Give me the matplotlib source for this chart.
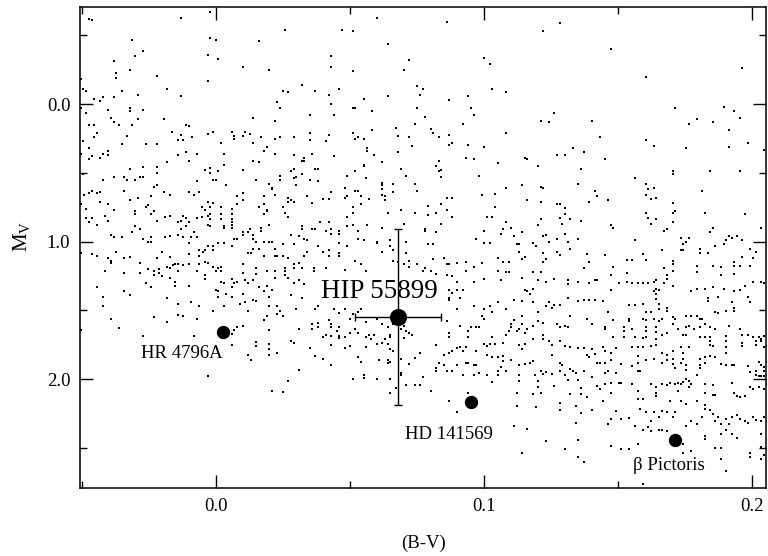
import numpy as np
import matplotlib.pyplot as plt
from matplotlib.ticker import MultipleLocator, FormatStrFormatter

plt.rcParams['font.family'] = ['Liberation Serif', 'DejaVu Serif']
plt.rcParams['mathtext.fontset'] = 'custom'
plt.rcParams['mathtext.rm'] = 'Liberation Serif'

# field stars, (B-V, M_V)
field_upper_left = [
    (-0.0473, -0.618), (-0.0463, -0.609), (-0.0132, -0.628), (-0.0022, -0.669), (-0.0312, -0.468),
    (-0.0022, -0.48), (-0.0001, -0.468), (-0.0272, -0.383), (-0.0302, -0.349), (-0.0031, -0.359),
    (0.0009, -0.327), (-0.0382, -0.31), (0.010, -0.27), (-0.0322, -0.25), (-0.0373, -0.228),
    (-0.0373, -0.192), (-0.0221, -0.206), (-0.0503, -0.18), (-0.0031, -0.17), (-0.0494, -0.109),
    (-0.0483, -0.097), (-0.0352, -0.097), (-0.0182, -0.109), (-0.0291, -0.068), (-0.0132, -0.058),
    (-0.0453, -0.039), (-0.0423, -0.051), (-0.0382, -0.049), (-0.0433, -0.02),
    (-0.0503, 0.031), (-0.0483, 0.063), (-0.0403, 0.041), (-0.0322, 0.031), (-0.0322, 0.053),
    (-0.0272, 0.041), (-0.0393, 0.102), (-0.0291, 0.111), (-0.0193, 0.111), (-0.0382, 0.133),
    (-0.0473, 0.15), (-0.0453, 0.15), (-0.0362, 0.15), (-0.0312, 0.15), (-0.0113, 0.15),
    (-0.0102, 0.162), (-0.0162, 0.204), (-0.0443, 0.211), (-0.0453, 0.24), (-0.0332, 0.23),
    (-0.0132, 0.223), (-0.0091, 0.24), (-0.0031, 0.22), (-0.0011, 0.204), (0.0059, 0.204),
    (0.0067, 0.23), (0.0067, 0.252), (0.010, 0.23), (0.0109, 0.204), (0.0129, 0.22),
    (-0.0494, 0.271), (-0.0352, 0.291), (-0.0262, 0.291), (-0.0221, 0.291), (-0.0142, 0.262),
    (-0.0121, 0.262), (0.0019, 0.281), (-0.0473, 0.32), (-0.0503, 0.361), (-0.0423, 0.361),
    (-0.0403, 0.342), (-0.0403, 0.371), (-0.0463, 0.38), (-0.0473, 0.40), (-0.0433, 0.39),
    (-0.0142, 0.371), (-0.0113, 0.351), (-0.0072, 0.361), (0.0029, 0.361), (-0.0102, 0.412),
    (-0.0182, 0.422), (0.0029, 0.441), (-0.0322, 0.473), (-0.0272, 0.46), (-0.0221, 0.46),
    (-0.0221, 0.499), (-0.0041, 0.48), (-0.0021, 0.468), (-0.0021, 0.499), (0.0009, 0.489),
    (0.010, 0.48), (-0.0494, 0.509), (-0.0423, 0.55), (-0.0382, 0.531), (-0.0342, 0.531),
    (-0.0332, 0.55), (-0.0302, 0.55), (-0.0282, 0.531), (-0.0272, 0.531), (-0.0072, 0.56),
    (-0.0011, 0.55), (-0.0001, 0.55), (-0.0221, 0.591), (0.0039, 0.591), (-0.0463, 0.63),
    (-0.0473, 0.65), (-0.0443, 0.65), (-0.0433, 0.64), (-0.0493, 0.66), (-0.0342, 0.63),
    (-0.0243, 0.671), (-0.0291, 0.681), (-0.0193, 0.64), (-0.0172, 0.66), (-0.0102, 0.64),
    (-0.0082, 0.66), (-0.0062, 0.64), (-0.0232, 0.606), (0.010, 0.65), (0.0078, 0.671),
    (0.010, 0.70), (-0.0433, 0.71), (-0.0503, 0.73), (-0.0322, 0.70), (-0.0403, 0.73),
    (-0.0262, 0.749), (-0.0253, 0.734), (-0.0031, 0.71), (-0.0011, 0.722), (0.0078, 0.73),
    (-0.0483, 0.76), (-0.0382, 0.77), (-0.0302, 0.778), (-0.0302, 0.80), (-0.0232, 0.778),
    (-0.0243, 0.80), (-0.0051, 0.749), (-0.0041, 0.77), (-0.0021, 0.749), (0.0019, 0.749),
    (0.0059, 0.76), (0.0059, 0.80), (-0.0413, 0.81), (-0.0172, 0.81), (-0.0191, 0.82),
    (-0.0121, 0.81), (-0.0112, 0.829), (-0.0072, 0.829), (-0.0051, 0.82), (-0.0031, 0.81),
    (-0.0021, 0.80), (-0.0021, 0.838), (0.0019, 0.80), (0.0019, 0.838), (-0.0483, 0.829),
    (-0.0463, 0.829), (-0.0473, 0.86), (-0.0403, 0.848), (-0.0221, 0.848), (-0.0142, 0.86),
    (-0.0132, 0.848), (-0.0102, 0.86), (0.0059, 0.838), (0.0059, 0.86), (-0.0443, 0.88),
    (-0.0302, 0.889), (-0.0132, 0.909), (-0.0112, 0.889), (-0.0031, 0.88), (-0.0021, 0.889),
    (0.0029, 0.889), (0.0029, 0.90), (0.0059, 0.88), (0.0059, 0.90), (0.0129, 0.909),
    (-0.0282, 0.909), (-0.0393, 0.953), (-0.0382, 0.965), (-0.0352, 0.969), (-0.0312, 0.931),
    (-0.0272, 0.982), (-0.0243, 0.969), (-0.0253, 1.0), (-0.0243, 1.0), (-0.0191, 0.969),
    (-0.0172, 0.96), (-0.0142, 0.953), (-0.0121, 0.969), (-0.0092, 0.969), (-0.0072, 0.969),
    (-0.0082, 0.931), (-0.0102, 1.011), (-0.0031, 1.03), (-0.0011, 1.03), (0.0009, 1.011),
    (0.0029, 1.011), (0.0059, 1.03), (0.0068, 0.982), (0.0078, 0.982), (0.010, 0.931),
    (0.010, 0.953), (0.0119, 0.931),
]

field_upper_mid = [
    (0.0600, -0.628), (0.0259, -0.536), (0.0470, -0.538), (0.0510, -0.529), (0.0159, -0.458),
    (0.0641, -0.439), (0.0430, -0.349), (0.0430, -0.267), (0.0719, -0.318), (0.0700, -0.250),
    (0.0199, -0.250), (0.0510, -0.238), (0.0320, -0.138), (0.0249, -0.097), (0.0269, -0.087),
    (0.0370, -0.097), (0.0460, -0.109), (0.0420, -0.068), (0.0751, -0.129), (0.0771, -0.109),
    (0.0761, -0.068), (0.0641, -0.058), (0.0551, -0.039), (0.0229, -0.017), (0.0239, 0.031),
    (0.0430, 0.002), (0.0510, 0.031), (0.0520, 0.031), (0.0581, 0.051), (0.0751, 0.031),
    (0.0139, 0.099), (0.0219, 0.121), (0.0351, 0.080), (0.0440, 0.080), (0.0741, 0.143),
    (0.0671, 0.172), (0.0581, 0.191), (0.0168, 0.240), (0.0239, 0.240), (0.0219, 0.252),
    (0.0290, 0.240), (0.0351, 0.211), (0.0351, 0.262), (0.0420, 0.223), (0.0409, 0.271),
    (0.0510, 0.211), (0.0520, 0.252), (0.0530, 0.240), (0.0551, 0.252), (0.0681, 0.230),
    (0.0720, 0.240), (0.0731, 0.303), (0.0139, 0.281), (0.0189, 0.310), (0.0179, 0.342),
    (0.0219, 0.361), (0.0290, 0.371), (0.0360, 0.361), (0.0330, 0.39), (0.0320, 0.412),
    (0.0330, 0.412), (0.0440, 0.380), (0.0564, 0.322), (0.0564, 0.342), (0.0591, 0.371),
    (0.0681, 0.351), (0.0139, 0.412), (0.0159, 0.422), (0.0551, 0.441), (0.0551, 0.451),
    (0.0621, 0.422), (0.0290, 0.473), (0.0280, 0.489), (0.0370, 0.473), (0.0380, 0.473),
    (0.0320, 0.509), (0.0239, 0.521), (0.0239, 0.550), (0.0290, 0.54), (0.0300, 0.531),
    (0.0351, 0.550), (0.0380, 0.560), (0.0148, 0.550), (0.0520, 0.489), (0.0490, 0.521),
    (0.0560, 0.54), (0.0691, 0.473), (0.0710, 0.521), (0.0199, 0.582), (0.0209, 0.611),
    (0.0209, 0.620), (0.0300, 0.591), (0.0620, 0.572), (0.0620, 0.591), (0.0620, 0.620),
    (0.0661, 0.582), (0.0661, 0.640), (0.0741, 0.582), (0.0751, 0.630), (0.0480, 0.611),
    (0.0430, 0.640), (0.0520, 0.630), (0.0530, 0.630), (0.0179, 0.671), (0.0219, 0.659),
    (0.0269, 0.681), (0.0269, 0.710), (0.0280, 0.70), (0.0290, 0.710), (0.0340, 0.671),
    (0.0399, 0.691), (0.0420, 0.691), (0.0480, 0.681), (0.0490, 0.671), (0.0540, 0.671),
    (0.0570, 0.691), (0.0620, 0.659), (0.0631, 0.671), (0.0631, 0.70), (0.0360, 0.720),
    (0.0540, 0.73), (0.0179, 0.73), (0.0159, 0.749), (0.0189, 0.769), (0.0189, 0.778),
    (0.0179, 0.80), (0.0249, 0.749), (0.0259, 0.79), (0.0269, 0.82), (0.0510, 0.749),
    (0.0510, 0.79), (0.0490, 0.82), (0.0691, 0.769), (0.0641, 0.79), (0.0741, 0.79),
    (0.0199, 0.88), (0.0168, 0.899), (0.0168, 0.923), (0.0320, 0.889), (0.0320, 0.909),
    (0.0360, 0.909), (0.0370, 0.909), (0.0389, 0.860), (0.0420, 0.860), (0.0409, 0.923),
    (0.0430, 0.909), (0.0430, 0.943), (0.0460, 0.923), (0.0460, 0.943), (0.0490, 0.889),
    (0.0510, 0.880), (0.0530, 0.923), (0.0564, 0.880), (0.0621, 0.899), (0.0700, 0.870),
    (0.0139, 0.953), (0.0139, 0.982), (0.0148, 1.001), (0.0179, 1.001), (0.0199, 1.001),
    (0.0209, 1.001), (0.0249, 1.020), (0.0280, 0.953), (0.0290, 1.020), (0.0310, 0.962),
    (0.0330, 0.982), (0.0340, 0.991), (0.0380, 1.030), (0.0460, 1.011), (0.0490, 1.030),
    (0.0530, 0.982), (0.0551, 0.991), (0.0601, 1.001), (0.0601, 1.011), (0.0651, 0.991),
    (0.0651, 1.030), (0.0710, 1.001),
]

field_upper_right = [
    (0.0861, -0.599), (0.1282, -0.592), (0.1221, -0.529), (0.1001, -0.337), (0.1021, -0.289),
    (0.1031, -0.109), (0.1082, -0.087), (0.0942, -0.058), (0.0871, -0.029), (0.0952, 0.031),
    (0.0961, 0.080), (0.0781, 0.092), (0.1263, 0.063), (0.1212, 0.121), (0.1243, 0.133),
    (0.1403, 0.121), (0.0922, 0.143), (0.0801, 0.182), (0.0811, 0.211), (0.0831, 0.240),
    (0.0871, 0.223), (0.1082, 0.211), (0.0881, 0.281), (0.0871, 0.30), (0.0942, 0.30),
    (0.1001, 0.310), (0.0932, 0.390), (0.0961, 0.402), (0.0831, 0.412), (0.0821, 0.451),
    (0.0831, 0.489), (0.0841, 0.48), (0.0841, 0.531), (0.1051, 0.431), (0.1152, 0.390),
    (0.1162, 0.402), (0.1202, 0.451), (0.1272, 0.371), (0.1302, 0.371), (0.1332, 0.320),
    (0.1373, 0.351), (0.1362, 0.473), (0.0981, 0.521), (0.1142, 0.591), (0.1082, 0.611),
    (0.1212, 0.601), (0.1221, 0.611), (0.1352, 0.582), (0.1413, 0.630), (0.0993, 0.659),
    (0.1041, 0.652), (0.0861, 0.681), (0.0881, 0.681), (0.0790, 0.739), (0.0841, 0.729),
    (0.0821, 0.79), (0.0861, 0.769), (0.0881, 0.82), (0.0790, 0.809), (0.1041, 0.749),
    (0.1011, 0.82), (0.1031, 0.82), (0.1162, 0.70), (0.1212, 0.710), (0.1272, 0.729),
    (0.1282, 0.729), (0.1302, 0.758), (0.1302, 0.80), (0.1393, 0.710), (0.1212, 0.838),
    (0.1282, 0.829), (0.1322, 0.838), (0.1362, 0.848), (0.1292, 0.870), (0.1202, 0.880),
    (0.0781, 0.909), (0.0781, 0.923), (0.0821, 0.931), (0.0841, 0.870), (0.1001, 0.921),
    (0.1082, 0.860), (0.1072, 0.909), (0.1062, 0.943), (0.1102, 0.899), (0.1112, 0.960),
    (0.1142, 0.931), (0.1221, 0.960), (0.1233, 0.953), (0.1302, 0.943), (0.0971, 0.982),
    (0.1001, 1.011), (0.1021, 1.011), (0.0790, 1.020), (0.0811, 1.020), (0.1122, 1.020),
    (0.1132, 1.020), (0.1182, 1.011), (0.1193, 1.030), (0.1243, 1.001), (0.1272, 0.982),
    (0.1312, 1.001), (0.1352, 0.982),
    (0.1473, -0.398), (0.1964, -0.259), (0.1603, -0.199), (0.1714, 0.031), (0.1894, 0.022),
    (0.1934, 0.051), (0.1954, 0.102), (0.1794, 0.111), (0.1764, 0.143), (0.1853, 0.133),
    (0.1914, 0.191), (0.1432, 0.240), (0.1603, 0.262), (0.1634, 0.303), (0.1754, 0.320),
    (0.1914, 0.313), (0.1984, 0.281), (0.2045, 0.332), (0.1453, 0.402), (0.1704, 0.489),
    (0.1704, 0.511), (0.1843, 0.489), (0.1954, 0.489), (0.1563, 0.54), (0.1603, 0.582),
    (0.1613, 0.620), (0.1634, 0.611), (0.1603, 0.661), (0.1623, 0.691), (0.1643, 0.681),
    (0.1423, 0.671), (0.1463, 0.70), (0.1813, 0.630), (0.1704, 0.720), (0.1603, 0.79),
    (0.1613, 0.829), (0.1643, 0.838), (0.1623, 0.870), (0.1704, 0.79), (0.1714, 0.78),
    (0.1823, 0.79), (0.1974, 0.80), (0.1704, 0.860), (0.1473, 0.880), (0.1483, 0.899),
    (0.1673, 0.921), (0.1683, 0.909), (0.1853, 0.899), (0.1843, 0.931), (0.2035, 0.899),
    (0.1563, 0.991), (0.1734, 0.972), (0.1764, 0.972), (0.1754, 1.001), (0.1744, 1.020),
    (0.1863, 1.030), (0.1894, 1.020), (0.1904, 0.991), (0.1914, 0.962), (0.1924, 0.972),
    (0.1944, 0.962), (0.1964, 0.991),
]

field_lower_left = [
    (-0.0502, 1.081), (-0.0462, 1.088), (-0.0442, 1.101), (-0.0402, 1.120), (-0.0393, 1.137),
    (-0.0393, 1.154), (-0.0373, 1.072), (-0.0342, 1.120), (-0.0322, 1.113), (-0.0282, 1.154),
    (-0.0221, 1.120), (-0.0201, 1.072), (-0.0171, 1.113), (-0.0101, 1.088), (-0.0062, 1.059),
    (-0.0062, 1.101), (-0.0050, 1.072), (-0.0040, 1.059), (-0.0011, 1.059), (-0.0412, 1.215),
    (-0.0342, 1.229), (-0.0282, 1.229), (-0.0252, 1.202), (-0.0232, 1.215), (-0.0232, 1.244),
    (-0.0211, 1.202), (-0.0211, 1.229), (-0.0201, 1.253), (-0.0181, 1.185), (-0.0171, 1.190),
    (-0.0161, 1.173), (-0.0151, 1.161), (-0.0141, 1.161), (-0.0141, 1.215), (-0.0171, 1.263),
    (-0.0121, 1.173), (-0.0101, 1.161), (-0.0062, 1.161), (-0.0040, 1.147), (-0.0031, 1.154),
    (-0.0072, 1.215), (-0.0040, 1.244), (-0.0040, 1.273), (-0.0011, 1.185), (0.0000, 1.215),
    (0.0009, 1.195), (0.0019, 1.185), (0.0019, 1.215), (0.0100, 1.161), (0.0100, 1.229),
    (0.0120, 1.081), (0.0130, 1.081), (-0.0262, 1.302), (-0.0242, 1.331), (-0.0151, 1.292),
    (-0.0151, 1.321), (-0.0101, 1.321), (0.0019, 1.292), (0.0029, 1.302), (0.0059, 1.273),
    (0.0069, 1.302), (0.0079, 1.292), (0.0110, 1.282), (0.0120, 1.302), (-0.0442, 1.331),
    (-0.0342, 1.360), (-0.0322, 1.391), (-0.0422, 1.401), (-0.0422, 1.471), (-0.0181, 1.411),
    (0.0000, 1.350), (0.0009, 1.360), (0.0009, 1.401), (0.0039, 1.382), (0.0059, 1.331),
    (0.0059, 1.401), (0.0100, 1.382), (0.0110, 1.440), (0.0090, 1.452), (-0.0141, 1.452),
    (-0.0092, 1.440), (-0.0062, 1.471), (0.0029, 1.471), (-0.0011, 1.501), (0.0120, 1.501),
    (-0.0393, 1.559), (-0.0363, 1.629), (-0.0232, 1.551), (-0.0181, 1.583), (-0.0141, 1.534),
    (-0.0121, 1.542), (-0.0072, 1.559), (-0.0502, 1.639), (-0.0272, 1.682), (-0.0082, 1.682),
    (0.0059, 1.668), (0.0069, 1.639), (0.0079, 1.622), (0.0100, 1.614), (0.0059, 1.753),
    (0.0120, 1.823), (0.0130, 1.859), (-0.0031, 1.978),
]

field_lower_mid = [
    (0.0139, 1.050), (0.0159, 1.050), (0.0179, 1.101), (0.0219, 1.050), (0.0219, 1.101),
    (0.0229, 1.101), (0.0249, 1.101), (0.0269, 1.120), (0.0330, 1.101), (0.0340, 1.072),
    (0.0399, 1.072), (0.0420, 1.059), (0.0420, 1.101), (0.0460, 1.081), (0.0460, 1.101),
    (0.0290, 1.161), (0.0310, 1.154), (0.0320, 1.195), (0.0290, 1.195), (0.0259, 1.190),
    (0.0259, 1.215), (0.0259, 1.244), (0.0269, 1.263), (0.0189, 1.215), (0.0219, 1.215),
    (0.0219, 1.263), (0.0148, 1.190), (0.0148, 1.234), (0.0139, 1.282), (0.0159, 1.331),
    (0.0179, 1.360), (0.0189, 1.321), (0.0209, 1.350), (0.0199, 1.401), (0.0290, 1.302),
    (0.0310, 1.282), (0.0330, 1.311), (0.0320, 1.411), (0.0366, 1.195), (0.0366, 1.215),
    (0.0409, 1.190), (0.0480, 1.205), (0.0520, 1.137), (0.0540, 1.161), (0.0560, 1.215),
    (0.0621, 1.072), (0.0661, 1.059), (0.0661, 1.137), (0.0681, 1.147), (0.0700, 1.161),
    (0.0710, 1.081), (0.0719, 1.137), (0.0719, 1.185), (0.0751, 1.161), (0.0771, 1.215),
    (0.0139, 1.421), (0.0148, 1.428), (0.0199, 1.471), (0.0229, 1.471), (0.0239, 1.501),
    (0.0249, 1.540), (0.0229, 1.525), (0.0189, 1.542), (0.0179, 1.568), (0.0199, 1.641),
    (0.0300, 1.491), (0.0280, 1.391), (0.0370, 1.491), (0.0380, 1.471), (0.0440, 1.491),
    (0.0460, 1.520), (0.0480, 1.491), (0.0500, 1.559), (0.0510, 1.525), (0.0420, 1.568),
    (0.0430, 1.598), (0.0430, 1.622), (0.0460, 1.622), (0.0450, 1.646), (0.0460, 1.685),
    (0.0460, 1.699), (0.0360, 1.598), (0.0360, 1.632), (0.0380, 1.590), (0.0380, 1.622),
    (0.0399, 1.694), (0.0409, 1.675), (0.0430, 1.682), (0.0480, 1.694), (0.0500, 1.661),
    (0.0520, 1.632), (0.0530, 1.661), (0.0310, 1.632), (0.0540, 1.491), (0.0530, 1.510),
    (0.0560, 1.585), (0.0601, 1.559), (0.0621, 1.598), (0.0641, 1.622), (0.0661, 1.598),
    (0.0560, 1.694), (0.0570, 1.675), (0.0580, 1.704), (0.0591, 1.675), (0.0631, 1.704),
    (0.0651, 1.694), (0.0651, 1.675), (0.0691, 1.632), (0.0700, 1.610), (0.0710, 1.646),
    (0.0720, 1.661), (0.0731, 1.675), (0.0700, 1.699), (0.0148, 1.728), (0.0148, 1.757),
    (0.0199, 1.743), (0.0199, 1.782), (0.0199, 1.823), (0.0229, 1.811), (0.0280, 1.724),
    (0.0290, 1.733), (0.0351, 1.770), (0.0370, 1.828), (0.0399, 1.852), (0.0430, 1.898),
    (0.0430, 1.753), (0.0480, 1.772), (0.0500, 1.757), (0.0560, 1.762), (0.0601, 1.743),
    (0.0621, 1.733), (0.0641, 1.743), (0.0651, 1.782), (0.0661, 1.791), (0.0530, 1.840),
    (0.0540, 1.871), (0.0610, 1.862), (0.0641, 1.862), (0.0641, 1.881), (0.0651, 1.871),
    (0.0691, 1.852), (0.0720, 1.891), (0.0741, 1.842), (0.0691, 1.951), (0.0691, 1.968),
    (0.0310, 1.932), (0.0269, 2.012), (0.0209, 2.082), (0.0249, 2.092), (0.0510, 2.000),
    (0.0551, 1.968), (0.0551, 1.990), (0.0601, 2.000), (0.0651, 2.000), (0.0710, 2.039),
    (0.0741, 2.039), (0.0761, 2.039), (0.0771, 1.985), (0.0651, 2.102), (0.0671, 2.063),
    (0.0761, 1.808),
]

field_lower_right = [
    (0.0811, 1.127), (0.0851, 1.118), (0.0861, 1.166), (0.0871, 1.166), (0.0781, 1.195),
    (0.0801, 1.215), (0.0932, 1.147), (0.0961, 1.185), (0.0993, 1.156), (0.1052, 1.118),
    (0.1072, 1.147), (0.1092, 1.147), (0.1132, 1.072), (0.1142, 1.127), (0.1152, 1.108),
    (0.1221, 1.081), (0.1221, 1.147), (0.1233, 1.127), (0.1272, 1.072), (0.1282, 1.098),
    (0.1322, 1.050), (0.1383, 1.088), (0.1393, 1.147), (0.1373, 1.195), (0.0861, 1.244),
    (0.0881, 1.253), (0.0901, 1.292), (0.0932, 1.215), (0.0961, 1.292), (0.1001, 1.273),
    (0.1051, 1.215), (0.1062, 1.282), (0.1082, 1.224), (0.1092, 1.224), (0.1142, 1.263),
    (0.1182, 1.224), (0.1202, 1.282), (0.1212, 1.224), (0.1233, 1.292), (0.1263, 1.273),
    (0.1312, 1.282), (0.1312, 1.311), (0.1352, 1.292), (0.1393, 1.302), (0.1413, 1.282),
    (0.0871, 1.350), (0.0871, 1.411), (0.0871, 1.421), (0.0881, 1.370), (0.0901, 1.350),
    (0.0911, 1.411), (0.0922, 1.350), (0.0901, 1.491), (0.0961, 1.471), (0.1001, 1.491),
    (0.1021, 1.471), (0.1031, 1.510), (0.1051, 1.442), (0.1082, 1.491), (0.1112, 1.421),
    (0.1142, 1.433), (0.1152, 1.350), (0.1172, 1.379), (0.1162, 1.355), (0.1182, 1.341),
    (0.1182, 1.440), (0.1233, 1.471), (0.1243, 1.440), (0.1253, 1.481), (0.1263, 1.462),
    (0.1282, 1.462), (0.1312, 1.411), (0.1352, 1.433), (0.1373, 1.421), (0.1393, 1.421),
    (0.1413, 1.421), (0.1202, 1.510), (0.0861, 1.578), (0.0871, 1.661), (0.0871, 1.694),
    (0.0911, 1.612), (0.0942, 1.646), (0.0942, 1.694), (0.0952, 1.622), (0.0971, 1.622),
    (0.0981, 1.622), (0.0993, 1.539), (0.1001, 1.559), (0.1001, 1.743), (0.1011, 1.755),
    (0.1021, 1.743), (0.1031, 1.694), (0.1041, 1.743), (0.1072, 1.733), (0.1082, 1.675),
    (0.1092, 1.646), (0.1102, 1.622), (0.1102, 1.598), (0.1112, 1.568), (0.1122, 1.646),
    (0.1132, 1.632), (0.1142, 1.539), (0.1142, 1.598), (0.1152, 1.661), (0.1162, 1.632),
    (0.1182, 1.612), (0.1202, 1.578), (0.1221, 1.588), (0.1221, 1.675), (0.1221, 1.704),
    (0.1272, 1.598), (0.1282, 1.622), (0.1302, 1.612), (0.1312, 1.622), (0.1322, 1.539),
    (0.1383, 1.559), (0.1403, 1.598), (0.1132, 1.753), (0.1142, 1.782), (0.1152, 1.743),
    (0.1182, 1.704), (0.1243, 1.724), (0.1253, 1.753), (0.1253, 1.821), (0.1282, 1.724),
    (0.1302, 1.757), (0.1322, 1.767), (0.1352, 1.772), (0.1373, 1.772), (0.1383, 1.821),
    (0.1393, 1.840), (0.1403, 1.782), (0.1413, 1.816), (0.0821, 1.753), (0.0851, 1.821),
    (0.0871, 1.811), (0.0881, 1.791), (0.0901, 1.772), (0.0911, 1.762), (0.0922, 1.791),
    (0.0932, 1.762), (0.0971, 1.791), (0.1011, 1.821), (0.1031, 1.840), (0.1051, 1.840),
    (0.1072, 1.830), (0.0831, 1.879), (0.0821, 1.918), (0.0821, 1.937), (0.0851, 1.898),
    (0.0861, 1.937), (0.0881, 1.937), (0.0901, 1.898), (0.0932, 1.879), (0.0942, 1.879),
    (0.0961, 1.898), (0.0971, 1.898), (0.0922, 1.968), (0.0961, 1.968), (0.0981, 1.951),
    (0.1011, 1.968), (0.1031, 2.019), (0.1051, 1.937), (0.1051, 1.968), (0.1062, 1.908),
    (0.1082, 1.937), (0.1072, 1.864), (0.1102, 1.859), (0.1132, 1.898), (0.1152, 1.888),
    (0.1172, 1.879), (0.1182, 1.869), (0.1132, 2.010), (0.1132, 1.968), (0.1192, 1.968),
    (0.1202, 2.010), (0.1202, 2.058), (0.1212, 1.937), (0.1221, 1.961), (0.1233, 1.949),
    (0.1253, 1.961), (0.1282, 1.879), (0.1282, 1.937), (0.1292, 1.898), (0.1302, 1.968),
    (0.1312, 2.005), (0.1322, 1.927), (0.1332, 1.937), (0.1342, 1.951), (0.1352, 2.005),
    (0.1373, 1.937), (0.1182, 2.107), (0.1212, 2.097), (0.1263, 2.048), (0.1322, 2.107),
    (0.1362, 2.063), (0.1362, 2.107), (0.1383, 2.126), (0.1403, 1.985), (0.1122, 2.097),
    (0.1122, 2.194), (0.1193, 2.204), (0.1282, 2.170), (0.1282, 2.223), (0.1342, 2.194),
    (0.1362, 2.242), (0.1403, 2.223), (0.0801, 2.082), (0.0871, 2.160), (0.0942, 2.097),
    (0.0901, 2.237), (0.1112, 2.339), (0.1162, 2.364), (0.1233, 2.446), (0.1342, 2.320),
    (0.1352, 2.441), (0.1142, 2.533), (0.1302, 2.509), (0.1352, 2.562), (0.1373, 2.601),
    (0.0821, 1.234), (0.0901, 1.156),
]

field_lower_far_right = [
    (0.1453, 1.098), (0.1532, 1.132), (0.1552, 1.132), (0.1593, 1.088), (0.1603, 1.132),
    (0.1663, 1.059), (0.1734, 1.059), (0.1744, 1.059), (0.1804, 1.050), (0.1804, 1.081),
    (0.1835, 1.081), (0.1994, 1.050), (0.2004, 1.118), (0.2015, 1.072), (0.1483, 1.185),
    (0.1473, 1.244), (0.1532, 1.229), (0.1423, 1.282), (0.1673, 1.195), (0.1683, 1.244),
    (0.1683, 1.273), (0.1704, 1.137), (0.1704, 1.161), (0.1704, 1.215), (0.1673, 1.302),
    (0.1794, 1.176), (0.1794, 1.224), (0.1853, 1.176), (0.1884, 1.185), (0.1884, 1.244),
    (0.1934, 1.147), (0.1934, 1.176), (0.1934, 1.234), (0.1954, 1.176), (0.1964, 1.108),
    (0.1994, 1.176), (0.1502, 1.302), (0.1532, 1.292), (0.1552, 1.302), (0.1573, 1.302),
    (0.1593, 1.302), (0.1613, 1.302), (0.1634, 1.292), (0.1643, 1.282), (0.1643, 1.341),
    (0.1473, 1.350), (0.1443, 1.428), (0.1634, 1.360), (0.1643, 1.379), (0.1653, 1.350),
    (0.1643, 1.418), (0.1704, 1.321), (0.1773, 1.360), (0.1794, 1.341), (0.1823, 1.341),
    (0.1835, 1.408), (0.1835, 1.428), (0.1853, 1.331), (0.1874, 1.404), (0.1894, 1.341),
    (0.1934, 1.360), (0.1954, 1.350), (0.1974, 1.321), (0.2004, 1.292), (0.2035, 1.292),
    (0.2045, 1.302), (0.1924, 1.442), (0.1934, 1.481), (0.1934, 1.501), (0.1984, 1.404),
    (0.1994, 1.442), (0.1463, 1.510), (0.1542, 1.462), (0.1563, 1.462), (0.1593, 1.452),
    (0.1603, 1.510), (0.1623, 1.510), (0.1653, 1.491), (0.1653, 1.452), (0.1683, 1.481),
    (0.1683, 1.501), (0.1704, 1.549), (0.1714, 1.559), (0.1754, 1.539), (0.1773, 1.539),
    (0.1794, 1.539), (0.1804, 1.559), (0.1813, 1.559), (0.1863, 1.510), (0.1874, 1.520),
    (0.1904, 1.501), (0.1483, 1.568), (0.1542, 1.559), (0.1542, 1.578), (0.1593, 1.559),
    (0.1603, 1.568), (0.1634, 1.559), (0.1653, 1.578), (0.1663, 1.559), (0.1453, 1.617),
    (0.1453, 1.636), (0.1522, 1.622), (0.1522, 1.646), (0.1552, 1.636), (0.1603, 1.617),
    (0.1603, 1.646), (0.1643, 1.622), (0.1643, 1.656), (0.1663, 1.675), (0.1683, 1.661),
    (0.1704, 1.598), (0.1724, 1.636), (0.1754, 1.622), (0.1764, 1.612), (0.1754, 1.675),
    (0.1784, 1.636), (0.1804, 1.622), (0.1823, 1.598), (0.1843, 1.622), (0.1863, 1.636),
    (0.1914, 1.612), (0.1954, 1.636), (0.1964, 1.675), (0.1984, 1.675), (0.2004, 1.694),
    (0.2025, 1.694), (0.2035, 1.704), (0.2045, 1.685), (0.1483, 1.694), (0.1522, 1.694),
    (0.1563, 1.694), (0.1593, 1.699), (0.1603, 1.694), (0.1643, 1.709), (0.1744, 1.675),
    (0.1804, 1.694), (0.1823, 1.694), (0.1843, 1.694), (0.1843, 1.724), (0.1843, 1.748),
    (0.1853, 1.757), (0.1904, 1.685), (0.1904, 1.724), (0.1904, 1.767), (0.1904, 1.811),
    (0.1964, 1.733), (0.1964, 1.757), (0.2015, 1.724), (0.2015, 1.748), (0.2025, 1.694),
    (0.2035, 1.724), (0.2045, 1.767), (0.2055, 1.757), (0.1443, 1.762), (0.1453, 1.791),
    (0.1473, 1.811), (0.1493, 1.772), (0.1552, 1.767), (0.1573, 1.762), (0.1593, 1.767),
    (0.1623, 1.757), (0.1643, 1.753), (0.1663, 1.811), (0.1734, 1.762), (0.1764, 1.762),
    (0.1744, 1.811), (0.1704, 1.791), (0.1684, 1.821), (0.1804, 1.850), (0.1823, 1.840),
    (0.1843, 1.830), (0.1863, 1.840), (0.1804, 1.893), (0.1804, 1.918), (0.1823, 1.879),
    (0.1423, 1.884), (0.1433, 1.884), (0.1453, 1.879), (0.1473, 1.859), (0.1512, 1.888),
    (0.1552, 1.903), (0.1573, 1.830), (0.1573, 1.879), (0.1573, 1.937), (0.1583, 1.937),
    (0.1603, 1.859), (0.1634, 1.850), (0.1663, 1.884), (0.1683, 1.859), (0.1704, 1.850),
    (0.1704, 1.888), (0.1714, 1.918), (0.1734, 1.879), (0.1744, 1.850), (0.1754, 1.893),
    (0.1754, 1.932), (0.1794, 1.971), (0.1884, 1.888), (0.1904, 1.898), (0.1924, 1.898),
    (0.1934, 1.893), (0.1984, 1.903), (0.1994, 1.947), (0.2015, 1.937), (0.2025, 1.874),
    (0.2035, 1.893), (0.2045, 1.913), (0.2055, 1.874), (0.2015, 1.966), (0.2025, 1.976),
    (0.2035, 1.976), (0.2045, 1.976), (0.2045, 1.937), (0.1463, 1.937), (0.1493, 1.956),
    (0.1453, 1.956), (0.1423, 2.048), (0.1433, 2.068), (0.1453, 2.034), (0.1473, 2.024),
    (0.1473, 2.097), (0.1502, 2.029), (0.1512, 2.024), (0.1443, 2.155), (0.1552, 2.034),
    (0.1573, 2.082), (0.1573, 2.145), (0.1593, 2.140), (0.1623, 2.034), (0.1643, 2.058),
    (0.1643, 2.097), (0.1643, 2.121), (0.1663, 2.034), (0.1683, 2.044), (0.1693, 2.024),
    (0.1714, 2.034), (0.1724, 2.024), (0.1724, 2.087), (0.1734, 2.034), (0.1744, 2.019),
    (0.1754, 2.000), (0.1764, 2.015), (0.1764, 2.053), (0.1774, 2.034), (0.1823, 2.034),
    (0.1853, 2.044), (0.1853, 2.111), (0.1823, 2.097), (0.1863, 2.116), (0.1924, 2.024),
    (0.1934, 2.097), (0.1944, 2.121), (0.1954, 2.131), (0.1974, 2.121), (0.1994, 2.058),
    (0.2004, 2.068), (0.2025, 2.053), (0.2045, 2.068), (0.2055, 2.034), (0.1694, 2.160),
    (0.1734, 2.160), (0.1754, 2.179), (0.1794, 2.160), (0.1823, 2.189), (0.1823, 2.213),
    (0.1843, 2.223), (0.1583, 2.213), (0.1603, 2.237), (0.1634, 2.237), (0.1663, 2.228),
    (0.1683, 2.237), (0.1714, 2.237), (0.1704, 2.276), (0.1493, 2.228), (0.1473, 2.291),
    (0.1463, 2.325), (0.1512, 2.286), (0.1542, 2.281), (0.1563, 2.339), (0.1593, 2.368),
    (0.1613, 2.344), (0.1623, 2.300), (0.1653, 2.276), (0.1663, 2.368), (0.1754, 2.339),
    (0.1773, 2.300), (0.1794, 2.325), (0.1813, 2.276), (0.1853, 2.252), (0.1863, 2.300),
    (0.1874, 2.276), (0.1884, 2.325), (0.1904, 2.291), (0.1914, 2.325), (0.1924, 2.276),
    (0.1944, 2.262), (0.1954, 2.291), (0.1974, 2.300), (0.1984, 2.315), (0.2004, 2.271),
    (0.2015, 2.296), (0.2035, 2.300), (0.2045, 2.271), (0.2055, 2.300), (0.1473, 2.485),
    (0.1512, 2.504), (0.1542, 2.509), (0.1573, 2.470), (0.1623, 2.373), (0.1653, 2.368),
    (0.1683, 2.373), (0.1744, 2.470), (0.1773, 2.518), (0.1823, 2.412), (0.1823, 2.436),
    (0.1863, 2.499), (0.1884, 2.499), (0.1884, 2.577), (0.1884, 2.397), (0.1904, 2.368),
    (0.1924, 2.397), (0.1944, 2.426), (0.1994, 2.533), (0.1994, 2.567), (0.2035, 2.577),
    (0.2045, 2.548), (0.1593, 2.761), (0.1904, 2.669), (0.1744, 2.533), (0.2035, 2.494),
    (0.2035, 2.397),
]

# highlighted stars
star_names = ['HR 4796A', 'HD 141569', '\u03b2 Pictoris']
star_bv = [0.0028, 0.0952, 0.1714]
star_mv = [1.653, 2.162, 2.441]
label_bv = [-0.0126, 0.0870, 0.169]
label_mv = [1.847, 2.434, 2.660]

hip_name = 'HIP 55899'
hip_bv, hip_mv = 0.0679, 1.549
hip_bv_err, hip_mv_err = 0.016, 0.64
hip_label_bv, hip_label_mv = 0.0608, 1.412

field = np.array(field_upper_left + field_upper_mid + field_upper_right
                 + field_lower_left + field_lower_mid + field_lower_right
                 + field_lower_far_right)
field_bv, field_mv = field[:, 0], field[:, 1]

fig = plt.figure(figsize=(7.68, 5.56), dpi=100)
ax = fig.add_axes([80 / 768, 68 / 556, 686 / 768, 481 / 556])

ax.plot(field_bv, field_mv, ls='none', marker='s', ms=1.5, mew=0, color='black', zorder=1)

ax.plot(star_bv, star_mv, ls='none', marker='o', ms=8.6, color='black', zorder=3)
for name, x, y in zip(star_names, label_bv, label_mv):
    ax.text(x, y, name, ha='center', va='baseline', fontsize=13.5, zorder=4)

ax.errorbar(hip_bv, hip_mv, xerr=hip_bv_err, yerr=hip_mv_err, fmt='o', ms=11.3,
            color='black', elinewidth=1.0, capsize=3, capthick=1.0, zorder=3)
ax.text(hip_label_bv, hip_label_mv, hip_name, ha='center', va='baseline', fontsize=19.5, zorder=4)

ax.set_xlim(-0.0507, 0.2052)
ax.set_ylim(2.79, -0.705)

ax.xaxis.set_major_locator(MultipleLocator(0.1))
ax.xaxis.set_minor_locator(MultipleLocator(0.05))
ax.yaxis.set_major_locator(MultipleLocator(1.0))
ax.yaxis.set_minor_locator(MultipleLocator(0.5))
ax.xaxis.set_major_formatter(FormatStrFormatter('%.1f'))
ax.yaxis.set_major_formatter(FormatStrFormatter('%.1f'))

ax.tick_params(which='both', direction='in', top=True, right=True, width=1.0,
               labelsize=13.5, pad=7)
ax.tick_params(which='major', length=9.5)
ax.tick_params(which='minor', length=5)
for sp in ax.spines.values():
    sp.set_linewidth(1.1)

fig.text(424 / 768, 1 - 543 / 556, '(B-V)', ha='center', va='center', fontsize=13.5)
fig.text(22 / 768, 1 - 236 / 556, r'$\mathregular{M_V}$', ha='center', va='center',
         rotation=90, fontsize=15)

fig.savefig('out.png', dpi=100)
